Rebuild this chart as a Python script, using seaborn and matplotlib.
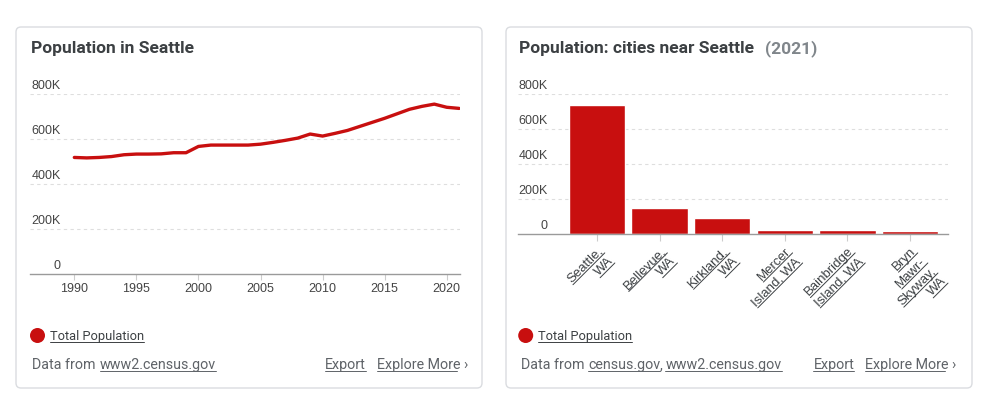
import numpy as np
import matplotlib
matplotlib.use("Agg")
import matplotlib.pyplot as plt
import seaborn as sns
from matplotlib.patches import FancyBboxPatch, Circle
from matplotlib.lines import Line2D
from matplotlib.transforms import IdentityTransform

# data
years = list(range(1990, 2022))
seattle_pop = [518, 516, 518, 522, 530, 533, 533, 534, 539, 539,
               567, 573, 573, 573, 573, 577, 585, 594, 604, 622,
               613, 625, 638, 656, 674, 692, 712, 732, 745, 755,
               741, 736]
seattle_pop = [v * 1000 for v in seattle_pop]
year_ticks = [1990, 1995, 2000, 2005, 2010, 2015, 2020]

cities = ["Seattle,\nWA", "Bellevue,\nWA", "Kirkland,\nWA", "Mercer\nIsland, WA",
          "Bainbridge\nIsland, WA", "Bryn\nMawr-\nSkyway,\nWA"]
city_pop = [735000, 151000, 92000, 25000, 24500, 17000]

y_ticks = [0, 200000, 400000, 600000, 800000]
y_labels = ["0", "200K", "400K", "600K", "800K"]

RED = "#c80f0f"
GRID = "#dedede"
AXIS = "#9a9a9a"
TXT = "#3c4043"
W, H = 987, 393

sns.set_theme(style="white")
plt.rcParams["font.family"] = ["Roboto", "DejaVu Sans"]

fig = plt.figure(figsize=(W / 100, H / 100), dpi=100)
fig.patch.set_facecolor("white")


def px_box(x0, y0, x1, y1):
    return [x0 / W, 1 - y1 / H, (x1 - x0) / W, (y1 - y0) / H]


def fig_text(x, y, s, **kw):
    return fig.text(x / W, 1 - y / H, s, **kw)


# cards
for x0, x1 in [(16, 482), (506, 972)]:
    fig.add_artist(FancyBboxPatch((x0 / 100, (H - 388) / 100), (x1 - x0) / 100, 3.61,
                                  boxstyle="round,pad=0,rounding_size=0.05",
                                  transform=fig.dpi_scale_trans, facecolor="white",
                                  edgecolor="#dadce0", linewidth=1.0, zorder=-5))


def style_axis(ax, label_x):
    ax.set_ylim(0, 800000)
    for yv in y_ticks[1:]:
        ax.axhline(yv, color=GRID, lw=0.8, ls=(0, (3, 3)), zorder=0)
    for yv, lab in zip(y_ticks, y_labels):
        ax.annotate(lab, (label_x, yv), xycoords=ax.get_yaxis_transform(),
                    xytext=(0, 1.5), textcoords="offset points", ha="right", va="bottom",
                    fontsize=9, color="#444444", family="Liberation Sans")
    for side in ["top", "right", "left"]:
        ax.spines[side].set_visible(False)
    ax.spines["bottom"].set_color(AXIS)
    ax.spines["bottom"].set_linewidth(1.0)
    ax.set_yticks([])
    ax.set_xlabel("")
    ax.set_ylabel("")
    ax.set_facecolor("none")
    ax.tick_params(axis="x", bottom=True, length=4, width=0.8, color="#cccccc",
                   pad=2.5, labelsize=9, labelcolor="#444444")
    for t in ax.get_xticklabels():
        t.set_family("Liberation Sans")


# left: line chart
ax1 = fig.add_axes(px_box(30, 94, 460, 274))
sns.lineplot(x=years, y=seattle_pop, color=RED, linewidth=2.4, ax=ax1)
ax1.set_xlim(1986.43, 2021.07)
ax1.set_xticks(year_ticks)
ax1.set_xticklabels([str(y) for y in year_ticks])
style_axis(ax1, (61 - 30) / 430)

# right: bar chart
ax2 = fig.add_axes(px_box(518, 94, 948, 234))
sns.barplot(x=list(range(len(cities))), y=city_pop, color=RED, saturation=1,
            width=0.9, ax=ax2)
ax2.set_xlim(-1.262, 5.607)
ax2.set_xticks(range(len(cities)))
ax2.set_xticklabels(cities, rotation=45, ha="right", rotation_mode="anchor",
                    linespacing=1.25, va="top")
style_axis(ax2, (548 - 518) / 430)
ax2.tick_params(axis="x", length=5, pad=3, labelsize=9.5, labelcolor=TXT)

# titles
fig_text(31, 53.5, "Population in Seattle", fontsize=12.5, fontweight="bold",
         color="#3c4043", va="baseline")
fig_text(519, 53.5, "Population: cities near Seattle", fontsize=12.5, fontweight="bold",
         color="#3c4043", va="baseline")
fig_text(765, 53.5, "(2021)", fontsize=12.5, fontweight="bold", color="#80868b",
         va="baseline")

links = []
# legends
for cx, tx in [(37.5, 50), (525.7, 538)]:
    fig.add_artist(Circle((cx / 100, (H - 335.5) / 100), 0.075, transform=fig.dpi_scale_trans,
                          facecolor=RED, edgecolor="none"))
    links.append(fig_text(tx, 340, "Total Population", fontsize=9.3, color=TXT, va="baseline"))

# footers
fig_text(32.5, 369, "Data from", fontsize=10.3, color="#5f6368", va="baseline")
links.append(fig_text(99.5, 369, "www2.census.gov", fontsize=10.3, color="#5f6368", va="baseline"))
fig_text(521, 369, "Data from", fontsize=10.3, color="#5f6368", va="baseline")
census = fig_text(588, 369, "census.gov", fontsize=10.3, color="#5f6368", va="baseline")
links.append(census)
comma = fig_text(658, 369, ",", fontsize=10.3, color="#5f6368", va="baseline")
links.append(fig_text(665.5, 369, "www2.census.gov", fontsize=10.3, color="#5f6368", va="baseline"))
for ex, mx in [(325, 377), (813.5, 865)]:
    links.append(fig_text(ex, 369, "Export", fontsize=10.3, color="#5f6368", va="baseline"))
    links.append(fig_text(mx, 369, "Explore More \u203a", fontsize=10.3, color="#5f6368",
                          va="baseline"))

# underlines (links and the bar labels)
fig.canvas.draw()
renderer = fig.canvas.get_renderer()
comma.set_x(census.get_window_extent(renderer).x1 / W)


def underline(t, gap=2.0):
    bbox, info, descent = t._get_layout(renderer)
    posx, posy = t.get_transform().transform(t.get_unitless_position())
    a = np.deg2rad(t.get_rotation())
    c, s = np.cos(a), np.sin(a)
    for line, (w, h), x, y in info:
        if line.endswith(" \u203a"):
            w *= 0.88
        bx, by = posx + x + gap * s, posy + y - gap * c
        fig.add_artist(Line2D([bx, bx + w * c], [by, by + w * s], transform=IdentityTransform(),
                              color=t.get_color(), lw=0.7))


for t in links + ax2.get_xticklabels():
    underline(t)

fig.savefig("out.png", dpi=100, facecolor="white")
